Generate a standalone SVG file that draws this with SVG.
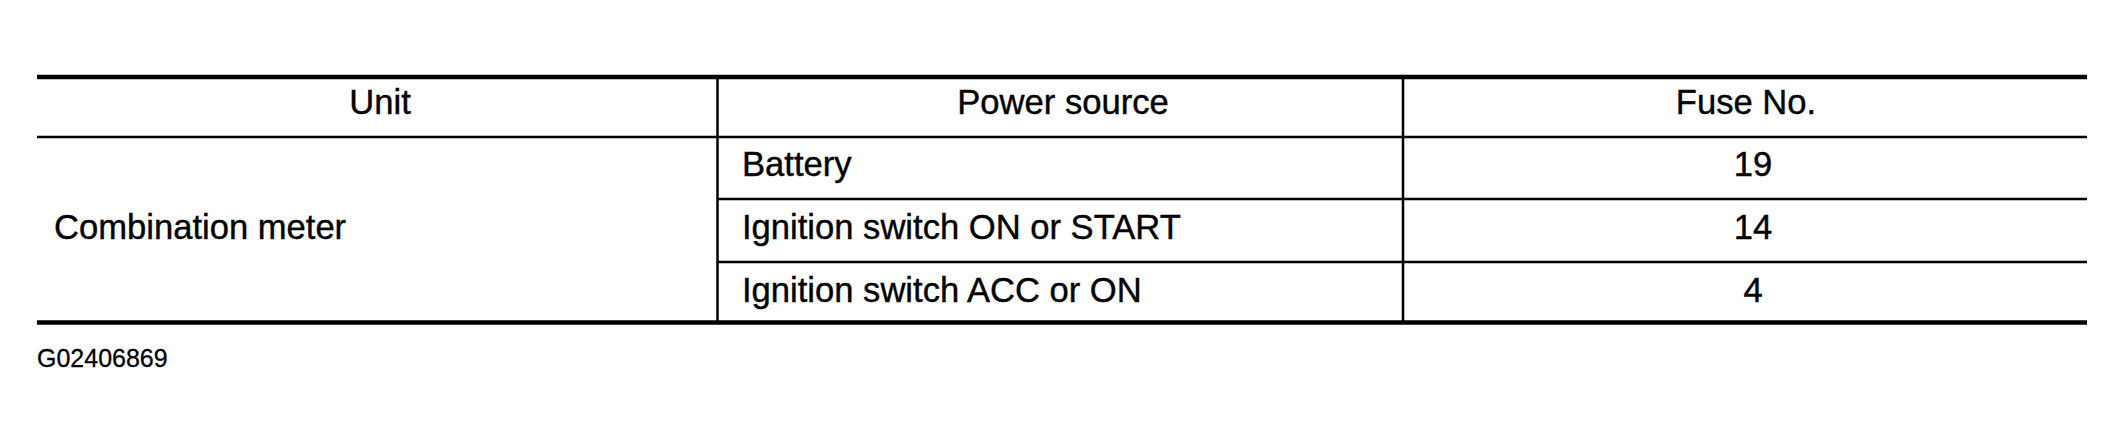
<svg xmlns="http://www.w3.org/2000/svg" width="2124" height="444" viewBox="0 0 2124 444">
<style>
text{font-family:"Liberation Sans",Arial,sans-serif;font-size:34.6px;fill:#000;stroke:#000;stroke-width:0.4}
.c{text-anchor:middle}
.thick{stroke:#000;stroke-width:4.5;fill:none}
.thin{stroke:#000;stroke-width:2.5;fill:none}
</style>
<rect width="2124" height="444" fill="#fff"/>
<g id="grid">
<line class="thick" x1="37" y1="77" x2="2087" y2="77"/>
<line class="thin" x1="37" y1="137" x2="2087" y2="137"/>
<line class="thin" x1="717" y1="199" x2="2087" y2="199"/>
<line class="thin" x1="717" y1="262" x2="2087" y2="262"/>
<line class="thick" x1="37" y1="322.5" x2="2087" y2="322.5"/>
<line class="thin" x1="717.5" y1="77" x2="717.5" y2="322"/>
<line class="thin" x1="1403" y1="77" x2="1403" y2="322"/>
</g>
<g id="header">
<text class="c" x="380" y="114">Unit</text>
<text class="c" x="1063" y="114">Power source</text>
<text class="c" x="1746" y="114">Fuse No.</text>
</g>
<g id="unit">
<text x="54" y="239">Combination meter</text>
</g>
<g id="row1">
<text x="742" y="176">Battery</text>
<text class="c" x="1753" y="176">19</text>
</g>
<g id="row2">
<text x="742" y="239">Ignition switch ON or START</text>
<text class="c" x="1753" y="239">14</text>
</g>
<g id="row3">
<text x="742" y="302">Ignition switch ACC or ON</text>
<text class="c" x="1753" y="302">4</text>
</g>
<text x="37" y="367" style="font-size:25px;stroke-width:0.3">G02406869</text>
</svg>
